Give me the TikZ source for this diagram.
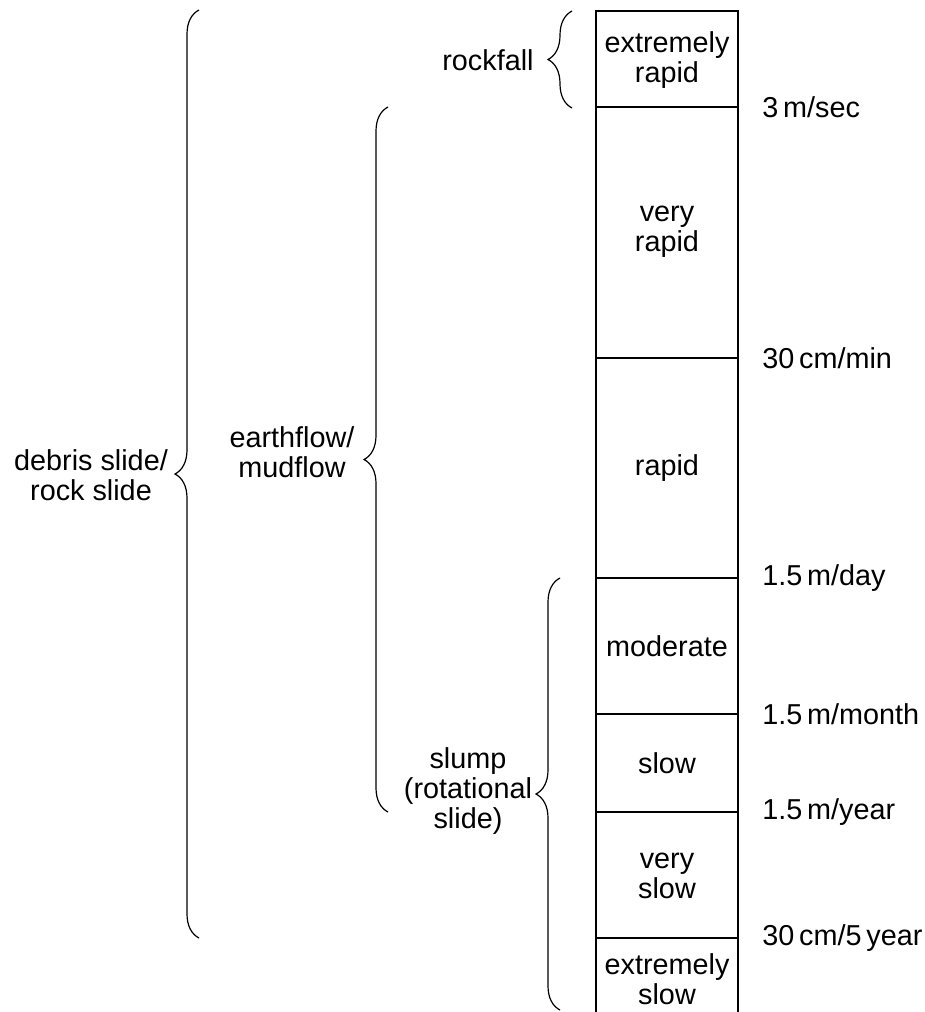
\documentclass[tikz,border=0pt]{standalone}
\usepackage{fontspec}
\setmainfont{Liberation Sans}
\usetikzlibrary{decorations.pathreplacing}

\begin{document}
\begin{tikzpicture}[x=0.5pt,y=-0.5pt,
	every node/.style={font=\fontsize{14.4}{15.2}\selectfont, align=center, inner sep=0pt},
	col/.style={line width=1pt},
	brc/.style={decorate, decoration={brace, amplitude=12pt, aspect=0.5}, line width=0.6pt}]
	\useasboundingbox (0,0) rectangle (925,1012);
	
	% the speed column
	\coordinate (ctl) at (596,11);
	\coordinate (ctr) at (738,11);
	\coordinate (cbl) at (596,1012);
	\coordinate (cbr) at (738,1012);
	\draw[col] (cbl) -- (ctl) -- (ctr) -- (cbr);
	\foreach \y/\rate [count=\i] in {107/{3\,m/sec}, 358/{30\,cm/min}, 578/{1.5\,m/day},
		714/{1.5\,m/month}, 812/{1.5\,m/year}, 938/{30\,cm/5\,year}}{
		\draw[col] (596,\y) coordinate (l\i) -- (738,\y) coordinate (r\i);
		\node[anchor=west] (rate\i) at (762,\y) {\rate};
	}
	
	% classes of speed
	\node (xrapid) at (667,60) {extremely\\rapid};
	\node (vrapid) at (667,232) {very\\rapid};
	\node (rapid) at (667,468) {rapid};
	\node (moderate) at (667,646) {moderate};
	\node (slow) at (667,763) {slow};
	\node (vslow) at (667,876) {very\\slow};
	\node (xslow) at (667,979) {extremely\\slow};
	
	% kinds of movement
	\coordinate (rf1) at (572,108);
	\coordinate (rf2) at (572,11);
	\draw[brc] (rf1) -- (rf2);
	\node[anchor=east] (rockfall) at (534,60) {rockfall};
	
	\coordinate (ef1) at (388,812);
	\coordinate (ef2) at (388,107);
	\draw[brc] (ef1) -- (ef2);
	\node (earthflow) at (292,452) {earthflow/\\mudflow};
	
	\coordinate (ds1) at (199,938);
	\coordinate (ds2) at (199,10);
	\draw[brc] (ds1) -- (ds2);
	\node (debris) at (91,475) {debris slide/\\rock slide};
	
	\coordinate (sl1) at (560,1010);
	\coordinate (sl2) at (560,578);
	\draw[brc] (sl1) -- (sl2);
	\node (slump) at (468,791) {slump\\(rotational\\slide)};
	
\end{tikzpicture}
\end{document}
